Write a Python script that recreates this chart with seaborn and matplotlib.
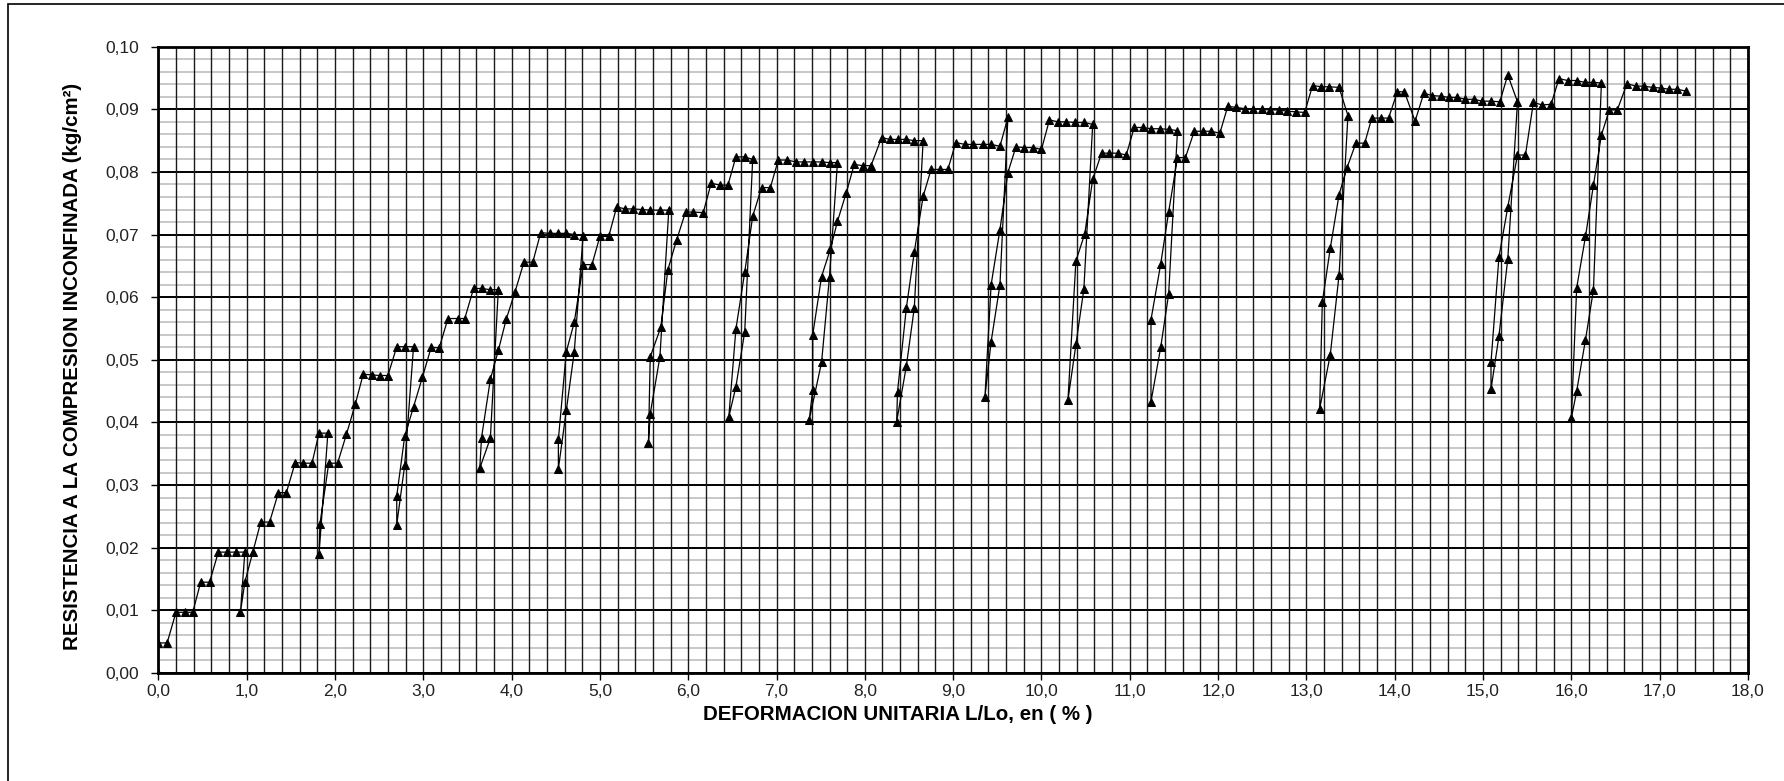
import matplotlib
matplotlib.use("Agg")
import matplotlib.pyplot as plt
from matplotlib.patches import Rectangle
import numpy as np
import pandas as pd
import seaborn as sns

# ---- data (strain %, stress kg/cm2) ----
deformacion = [
    0.00, 0.00, 0.10, 0.20, 0.30, 0.39, 0.48, 0.58, 0.68, 0.78, 0.88, 0.98,
    0.93, 0.98, 1.07, 1.16, 1.26, 1.36, 1.45, 1.55, 1.64, 1.74, 1.82, 1.92,
    1.82, 1.83, 1.93, 2.03, 2.13, 2.23, 2.32, 2.42, 2.51, 2.60, 2.70, 2.79, 2.89,
    2.79, 2.70, 2.70, 2.79, 2.89, 2.99, 3.09, 3.18, 3.28, 3.39, 3.47, 3.57, 3.66,
    3.76, 3.85, 3.76, 3.64, 3.66, 3.76, 3.85, 3.94, 4.04, 4.14, 4.24, 4.33, 4.43,
    4.53, 4.62, 4.71, 4.81, 4.71, 4.62, 4.53, 4.53, 4.62, 4.71, 4.81, 4.91, 5.00,
    5.10, 5.19, 5.29, 5.38, 5.48, 5.57, 5.68, 5.78, 5.68, 5.57, 5.55, 5.57, 5.69,
    5.77, 5.87, 5.97, 6.06, 6.17, 6.26, 6.36, 6.45, 6.54, 6.64, 6.73, 6.64, 6.54,
    6.46, 6.54, 6.64, 6.73, 6.83, 6.93, 7.02, 7.12, 7.22, 7.31, 7.41, 7.51, 7.60,
    7.69, 7.60, 7.51, 7.37, 7.41, 7.41, 7.51, 7.61, 7.69, 7.79, 7.88, 7.98, 8.07,
    8.19, 8.28, 8.37, 8.47, 8.56, 8.66, 8.56, 8.47, 8.36, 8.37, 8.47, 8.56, 8.66,
    8.75, 8.85, 8.94, 9.03, 9.13, 9.22, 9.34, 9.43, 9.53, 9.62, 9.53, 9.43, 9.36,
    9.43, 9.53, 9.62, 9.71, 9.80, 9.90, 10.00, 10.09, 10.19, 10.28, 10.38, 10.48,
    10.58, 10.48, 10.39, 10.30, 10.39, 10.49, 10.58, 10.68, 10.77, 10.87, 10.96,
    11.05, 11.15, 11.24, 11.34, 11.44, 11.54, 11.44, 11.35, 11.24, 11.24, 11.35,
    11.44, 11.54, 11.63, 11.73, 11.83, 11.92, 12.02, 12.11, 12.20, 12.31, 12.40,
    12.50, 12.59, 12.69, 12.78, 12.88, 12.98, 13.07, 13.17, 13.26, 13.37, 13.47,
    13.37, 13.27, 13.15, 13.18, 13.27, 13.37, 13.46, 13.56, 13.66, 13.74, 13.84,
    13.93, 14.03, 14.11, 14.23, 14.33, 14.42, 14.52, 14.62, 14.71, 14.80, 14.90,
    14.99, 15.09, 15.19, 15.28, 15.39, 15.28, 15.18, 15.09, 15.09, 15.18, 15.28,
    15.39, 15.48, 15.57, 15.67, 15.77, 15.86, 15.96, 16.06, 16.15, 16.25, 16.34,
    16.25, 16.16, 16.06, 16.00, 16.06, 16.16, 16.25, 16.34, 16.43, 16.52, 16.63,
    16.73, 16.82, 16.92, 17.01, 17.11, 17.20, 17.30,
]
resistencia = [
    0.0000, 0.0048, 0.0048, 0.0097, 0.0097, 0.0097, 0.0145, 0.0145, 0.0193, 0.0193, 0.0193, 0.0193,
    0.0097, 0.0145, 0.0193, 0.0241, 0.0241, 0.0288, 0.0288, 0.0336, 0.0335, 0.0335, 0.0383, 0.0383,
    0.0190, 0.0238, 0.0335, 0.0335, 0.0381, 0.0429, 0.0477, 0.0476, 0.0475, 0.0475, 0.0521, 0.0521, 0.0521,
    0.0332, 0.0237, 0.0283, 0.0378, 0.0425, 0.0472, 0.0520, 0.0519, 0.0566, 0.0566, 0.0566, 0.0614, 0.0614,
    0.0612, 0.0612, 0.0375, 0.0327, 0.0376, 0.0469, 0.0515, 0.0565, 0.0609, 0.0656, 0.0656, 0.0703, 0.0702,
    0.0702, 0.0702, 0.0700, 0.0698, 0.0513, 0.0420, 0.0326, 0.0373, 0.0513, 0.0560, 0.0652, 0.0652, 0.0697,
    0.0697, 0.0744, 0.0741, 0.0741, 0.0740, 0.0739, 0.0739, 0.0739, 0.0505, 0.0414, 0.0367, 0.0505, 0.0552,
    0.0644, 0.0692, 0.0736, 0.0736, 0.0735, 0.0782, 0.0779, 0.0779, 0.0824, 0.0824, 0.0820, 0.0545, 0.0457,
    0.0409, 0.0549, 0.0640, 0.0729, 0.0775, 0.0775, 0.0819, 0.0819, 0.0816, 0.0816, 0.0816, 0.0816, 0.0815,
    0.0815, 0.0633, 0.0496, 0.0404, 0.0452, 0.0540, 0.0633, 0.0677, 0.0721, 0.0767, 0.0812, 0.0810, 0.0810,
    0.0855, 0.0852, 0.0852, 0.0852, 0.0850, 0.0850, 0.0583, 0.0490, 0.0401, 0.0449, 0.0583, 0.0672, 0.0761,
    0.0804, 0.0804, 0.0804, 0.0847, 0.0844, 0.0844, 0.0844, 0.0844, 0.0841, 0.0887, 0.0620, 0.0529, 0.0441,
    0.0620, 0.0708, 0.0799, 0.0840, 0.0839, 0.0839, 0.0836, 0.0883, 0.0880, 0.0880, 0.0879, 0.0879,
    0.0876, 0.0613, 0.0525, 0.0436, 0.0658, 0.0701, 0.0788, 0.0830, 0.0830, 0.0830, 0.0827,
    0.0871, 0.0871, 0.0869, 0.0869, 0.0868, 0.0866, 0.0605, 0.0520, 0.0433, 0.0564, 0.0653,
    0.0736, 0.0823, 0.0823, 0.0865, 0.0865, 0.0865, 0.0862, 0.0905, 0.0903, 0.0901, 0.0901,
    0.0900, 0.0899, 0.0899, 0.0897, 0.0896, 0.0895, 0.0938, 0.0936, 0.0936, 0.0935, 0.0890,
    0.0636, 0.0508, 0.0422, 0.0592, 0.0678, 0.0764, 0.0807, 0.0846, 0.0846, 0.0886, 0.0886,
    0.0886, 0.0928, 0.0928, 0.0881, 0.0926, 0.0922, 0.0921, 0.0919, 0.0919, 0.0916, 0.0916,
    0.0913, 0.0913, 0.0912, 0.0955, 0.0912, 0.0661, 0.0538, 0.0453, 0.0496, 0.0664, 0.0744,
    0.0827, 0.0827, 0.0911, 0.0907, 0.0908, 0.0949, 0.0946, 0.0946, 0.0943, 0.0943, 0.0942,
    0.0612, 0.0532, 0.0450, 0.0407, 0.0615, 0.0697, 0.0779, 0.0859, 0.0899, 0.0899, 0.0941,
    0.0937, 0.0937, 0.0935, 0.0934, 0.0932, 0.0932, 0.0929,
]

x_ticks = list(range(0, 19))
x_tick_labels = [f"{v},0" for v in x_ticks]
y_ticks = [0.00, 0.01, 0.02, 0.03, 0.04, 0.05, 0.06, 0.07, 0.08, 0.09, 0.10]
y_tick_labels = ["0,00", "0,01", "0,02", "0,03", "0,04", "0,05",
                 "0,06", "0,07", "0,08", "0,09", "0,10"]
x_label = "DEFORMACION UNITARIA L/Lo, en ( % )"
y_label = "RESISTENCIA A LA COMPRESION INCONFINADA (kg/cm²)"

sns.set_theme(style="white")
plt.rcParams['font.family'] = ['Liberation Sans', 'DejaVu Sans']

W, H = 1784, 781
fig = plt.figure(figsize=(W / 100, H / 100), dpi=100)
fig.patch.set_facecolor("white")
ax = fig.add_axes([158.3 / W, 1 - 673 / H, (1748 - 158.3) / W, (673 - 46.7) / H])
ax.set_facecolor("white")

df = pd.DataFrame({"deformacion": deformacion, "resistencia": resistencia})
sns.lineplot(data=df, x="deformacion", y="resistencia", sort=False, estimator=None,
             color="black", linewidth=0.9, marker="^", markersize=5.5,
             markeredgecolor="black", markerfacecolor="black", ax=ax, zorder=5)

ax.set_xlim(0, 18)
ax.set_ylim(0, 0.10)
ax.set_xticks(x_ticks)
ax.set_xticklabels(x_tick_labels)
ax.set_xticks(np.arange(0, 18.001, 0.2), minor=True)
ax.set_yticks(y_ticks)
ax.set_yticklabels(y_tick_labels)
ax.set_yticks(np.arange(0, 0.10001, 0.002), minor=True)

ax.grid(which="major", axis="x", color="#1a1a1a", linewidth=1.0)
ax.grid(which="minor", axis="x", color="#1a1a1a", linewidth=1.0)
ax.grid(which="major", axis="y", color="black", linewidth=1.4)
ax.grid(which="minor", axis="y", color="#c8c8c8", linewidth=1.4)
ax.set_axisbelow(True)
ax.xaxis.set_zorder(0.8)

ax.tick_params(which="major", direction="out", length=5, width=1.0, color="black",
               labelsize=12.5, labelcolor="#222222", bottom=True, left=True)
ax.tick_params(axis="y", which="major", pad=9)
ax.tick_params(axis="x", which="major", pad=3)
ax.tick_params(which="minor", length=0)

for s in ax.spines.values():
    s.set_color("black")
    s.set_linewidth(2.0)
    s.set_visible(True)

ax.set_xlabel(x_label, fontsize=14.75, fontweight="bold", color="black")
ax.xaxis.set_label_coords(0.465, -0.066)
ax.xaxis.label.set_va("center")
ax.set_ylabel(y_label, fontsize=14.75, fontweight="bold", color="black")
ax.yaxis.set_label_coords(-0.054, 0.49)
ax.yaxis.label.set_va("center")

fig.add_artist(Rectangle((8 / W, -0.05), 1.2, 1.05 - 4 / H, fill=False,
                         edgecolor="black", linewidth=1.2,
                         transform=fig.transFigure, clip_on=False))

fig.savefig("out.png", dpi=100, facecolor="white")
